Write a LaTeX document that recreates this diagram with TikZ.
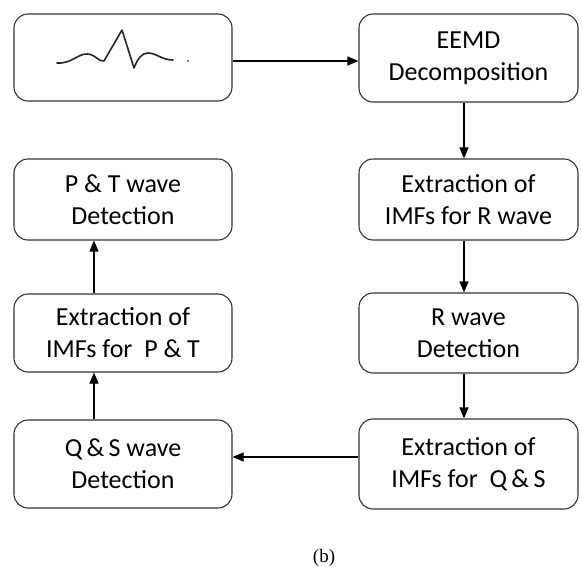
\documentclass[tikz,border=0pt]{standalone}
\usepackage{fontspec}
\setmainfont{Carlito}
\newfontfamily\capfont{Liberation Serif}
\usetikzlibrary{arrows.meta,positioning}

\begin{document}
\begin{tikzpicture}[x=1pt, y=-1pt,
        block/.style={draw=black!80, line width=1.1pt, rounded corners=14pt,
            align=center, inner sep=0pt, minimum width=219pt,
            font=\fontsize{26}{32}\selectfont},
        flow/.style={-{Triangle[length=11pt,width=9pt]}, line width=1.1pt}]
                \useasboundingbox (0,0) rectangle (582,566);

                % right column
                \node (eemd) [block, minimum height=88pt] at (468.5,58) {EEMD\\Decomposition};
                \node (imfr) [block, minimum height=81pt] at (468.5,199.5) {Extraction of\\IMFs for R wave};
                \node (rdet) [block, minimum height=80pt] at (468.5,333) {R wave\\Detection};
                \node (imfqs) [block, minimum height=90pt] at (468.5,464) {Extraction of\\IMFs for~ Q\,\&\,S};

                % left column
                \node (sig) [block, minimum width=218pt, minimum height=87pt] at (123,57.5) {};
                \node (ptdet) [block, minimum width=218pt, minimum height=81pt] at (123,199.5) {P \& T wave\\Detection};
                \node (imfpt) [block, minimum width=218pt, minimum height=78pt] at (123,333) {Extraction of\\IMFs for~ P \& T};
                \node (qsdet) [block, minimum width=218pt, minimum height=88pt] at (123,464) {Q\,\&\,S wave\\Detection};

                % ecg trace
                \draw [line width=1.6pt, line join=round, line cap=round, black!85]
                    (57,63) .. controls (72,64) and (78,53) .. (88,54)
                    .. controls (96,55) and (99,62) .. (104,61)
                    -- (122,30) -- (134,68)
                    .. controls (138,58) and (142,53) .. (148,53)
                    .. controls (156,53) and (162,60) .. (173,60);
                \fill [black!70] (188,61) circle (1.2pt);

                \coordinate (topy) at (0,61);
                \coordinate (boty) at (0,457);
                \coordinate (rx) at (464,0);
                \coordinate (lx) at (94,0);

                \draw [flow] (sig.east |- topy) -- (eemd.west |- topy);
                \draw [flow] (eemd.south -| rx) -- (imfr.north -| rx);
                \draw [flow] (imfr.south -| rx) -- (rdet.north -| rx);
                \draw [flow] (rdet.south -| rx) -- (imfqs.north -| rx);
                \draw [flow] (imfqs.west |- boty) -- (qsdet.east |- boty);
                \draw [flow] (qsdet.north -| lx) -- (imfpt.south -| lx);
                \draw [flow] (imfpt.north -| lx) -- (ptdet.south -| lx);

                \node (cap) at (324,558) {\capfont\fontsize{19}{21}\selectfont (b)};
            \end{tikzpicture}
\end{document}
